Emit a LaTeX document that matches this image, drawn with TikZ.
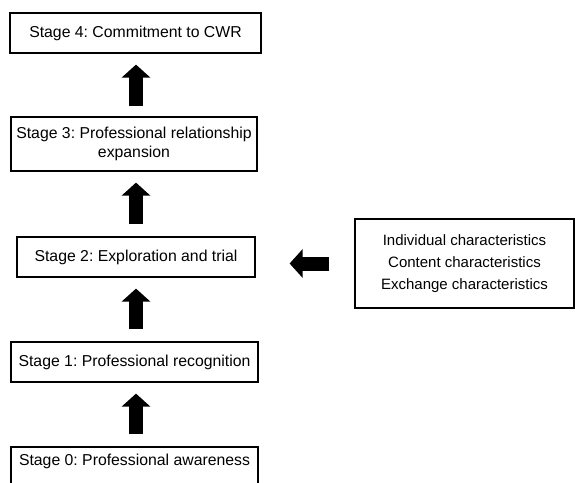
\documentclass[tikz,border=0pt]{standalone}
\usepackage{fontspec}
\setmainfont{Liberation Sans}
\frenchspacing
\usetikzlibrary{arrows.meta}
\tikzset{
  etapa/.style={draw, rectangle, line width=1.2pt, inner sep=0pt, align=center, font=\fontsize{15.8}{19}\selectfont},
  flecha/.style={-{Triangle[width=28pt,length=13pt]}, line width=14pt, shorten <=12pt, shorten >=11pt},
}
\begin{document}
\begin{tikzpicture}[x=1pt, y=1pt, node distance=105pt]
    \useasboundingbox (0,0) rectangle (575,-482);
    % Etapas
    \node (s0) [etapa, minimum width=247pt, text height=18.5pt, text depth=22pt] at (134.5,-467.25)
    {Stage 0: Professional awareness};
    \node (s1) [etapa, above of=s0, node distance=105.25pt, minimum width=247pt, minimum height=40pt]
    {Stage 1: Professional recognition};
    \node (s2) [etapa, above of=s1, xshift=1.5pt, minimum width=238pt, minimum height=40pt]
    {Stage 2: Exploration and trial};
    \node (s3) [etapa, above of=s2, node distance=113pt, xshift=-2pt, minimum width=246pt, minimum height=54pt]
    {Stage 3: Professional relationship\\expansion};
    \node (s4) [etapa, above of=s3, node distance=111pt, xshift=1.5pt, minimum width=251pt, minimum height=40pt]
    {Stage 4: Commitment to CWR};

    % Caracteristicas
    \node (car) [etapa, right of=s2, node distance=328.5pt, yshift=-6.5pt, minimum width=219pt, minimum height=89pt, font=\fontsize{15}{22}\selectfont]
    {Individual characteristics\\Content characteristics\\Exchange characteristics};

    % Flechas
    \draw[flecha] (s0.north -| s2) -- (s1.south -| s2);
    \draw[flecha] (s1.north -| s2) -- (s2.south);
    \draw[flecha] (s2.north) -- (s3.south -| s2);
    \draw[flecha, shorten <=10pt] (s3.north -| s2) -- (s4.south -| s2);
    \draw[flecha, shorten <=25pt, shorten >=34pt] (car.west) -- (car.west -| s2.east);
\end{tikzpicture}
\end{document}
